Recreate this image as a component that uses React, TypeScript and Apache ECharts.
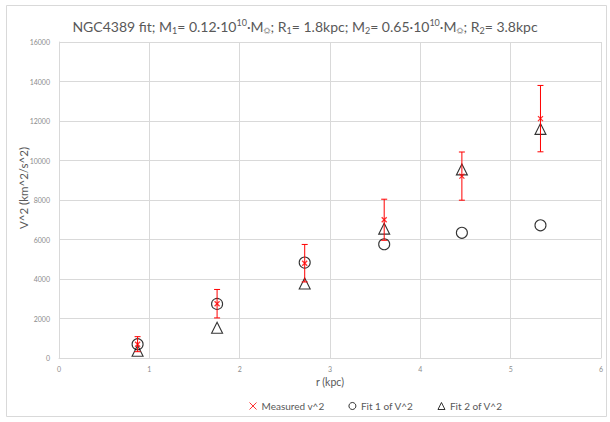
import React, { useEffect, useRef } from "react";
import * as echarts from "echarts";

const radius = [0.87, 1.75, 2.72, 3.6, 4.46, 5.33];
const measured = [700, 2750, 4800, 7000, 9210, 12120];
const measuredErr = [380, 720, 950, 1040, 1220, 1680];
const fit1 = [700, 2740, 4830, 5760, 6340, 6720];
const fit2 = [370, 1530, 3770, 6550, 9550, 11600];
const seriesNames = ["Measured v^2", "Fit 1 of V^2", "Fit 2 of V^2"];

const FONT = "Lato, 'Noto Sans', sans-serif";
const CROSS = "path://M0,0L10,10M10,0L0,10";

export default function App() {
  const ref = useRef<HTMLDivElement>(null);
  useEffect(() => {
    document.body.style.margin = "0";
    const chart = echarts.init(ref.current!, null, { renderer: "svg" });
    const measuredPts = radius.map((r, i) => [r, measured[i]]);
    const errPts = radius.map((r, i) => [r, measured[i] - measuredErr[i], measured[i] + measuredErr[i]]);
    const fit1Pts = radius.map((r, i) => [r, fit1[i]]);
    const fit2Pts = radius.map((r, i) => [r, fit2[i]]);
    const t = "#595959";
    chart.setOption({
      animation: false,
      textStyle: { fontFamily: FONT },
      graphic: [
        {
          type: "rect",
          shape: { x: 6.5, y: 5.5, width: 600, height: 411 },
          style: { fill: "none", stroke: "#d9d9d9", lineWidth: 1 },
          silent: true,
        },
      ],
      title: {
        left: "center",
        top: 11,
        text:
          "{a|NGC4389 fit; M}{s|1}{a|= 0.12·10}{p|10}{a|·M}{s|☼}{a|; R}{s|1}{a|= 1.8kpc; M}{s|2}{a|= 0.65·10}{p|10}{a|·M}{s|☼}{a|; R}{s|2}{a|= 3.8kpc}",
        textStyle: {
          fontWeight: "normal",
          rich: {
            a: { fontSize: 14, color: t, fontFamily: FONT, fontWeight: "normal", lineHeight: 20 },
            s: { fontSize: 9, color: t, fontFamily: FONT, fontWeight: "normal", lineHeight: 20, padding: [8, 0, 0, 0] },
            p: { fontSize: 9, color: t, fontFamily: FONT, fontWeight: "normal", lineHeight: 20, padding: [0, 0, 7, 0] },
          },
        },
      },
      grid: { left: 59, right: 9, top: 42, bottom: 64 },
      xAxis: {
        type: "value",
        min: 0,
        max: 6,
        interval: 1,
        name: "r (kpc)",
        nameLocation: "middle",
        nameGap: 18,
        nameMoveOverlap: false,
        nameTextStyle: { fontSize: 10.5, color: t, fontFamily: FONT },
        axisLine: { show: true, lineStyle: { color: "#d9d9d9" } },
        axisTick: { show: false },
        axisLabel: { fontSize: 7, color: "#8c8c8c", margin: 7, fontFamily: FONT },
        splitLine: { show: true, lineStyle: { color: "#d9d9d9" } },
      },
      yAxis: {
        type: "value",
        min: 0,
        max: 16000,
        interval: 2000,
        name: "V^2 (km^2/s^2)",
        nameLocation: "middle",
        nameGap: 30,
        nameMoveOverlap: false,
        nameTextStyle: { fontSize: 11.5, color: t, fontFamily: FONT, padding: [0, 0, 0, 24] },
        axisLine: { show: true, lineStyle: { color: "#d9d9d9" } },
        axisTick: { show: false },
        axisLabel: { fontSize: 7, color: "#8c8c8c", margin: 9, fontFamily: FONT, formatter: (v: number) => String(v) },
        splitLine: { show: true, lineStyle: { color: "#d9d9d9" } },
      },
      legend: {
        bottom: 6,
        left: 244,
        itemGap: 24,
        itemWidth: 7,
        itemHeight: 7,
        textStyle: { fontSize: 10, color: t, fontFamily: FONT },
        data: seriesNames.map((n) => ({ name: n, itemStyle: { borderWidth: 1 } })),
      },
      series: [
        {
          name: seriesNames[1],
          type: "scatter",
          symbol: "circle",
          symbolSize: 11,
          itemStyle: { color: "rgba(0,0,0,0)", borderColor: "#000", borderWidth: 1.1 },
          data: fit1Pts,
          z: 2,
        },
        {
          name: seriesNames[2],
          type: "scatter",
          symbol: "triangle",
          symbolSize: 11,
          itemStyle: { color: "rgba(0,0,0,0)", borderColor: "#000", borderWidth: 1.1 },
          data: fit2Pts,
          z: 2,
        },
        {
          name: "err",
          type: "custom",
          data: errPts,
          z: 3,
          renderItem: (params: any, api: any) => {
            const x = api.value(0);
            const lo = api.coord([x, api.value(1)]);
            const hi = api.coord([x, api.value(2)]);
            const c = 3;
            const style = { stroke: "#ff0000", lineWidth: 1 };
            return {
              type: "group",
              children: [
                { type: "line", shape: { x1: lo[0], y1: lo[1], x2: hi[0], y2: hi[1] }, style },
                { type: "line", shape: { x1: lo[0] - c, y1: lo[1], x2: lo[0] + c, y2: lo[1] }, style },
                { type: "line", shape: { x1: hi[0] - c, y1: hi[1], x2: hi[0] + c, y2: hi[1] }, style },
              ],
            };
          },
        },
        {
          name: seriesNames[0],
          type: "scatter",
          symbol: CROSS,
          symbolSize: 5,
          itemStyle: { color: "rgba(0,0,0,0)", borderColor: "#ff0000", borderWidth: 1.3 },
          data: measuredPts,
          z: 4,
        },
      ],
    });
    return () => chart.dispose();
  }, []);
  return <div ref={ref} style={{ width: 610, height: 422 }} />;
}
